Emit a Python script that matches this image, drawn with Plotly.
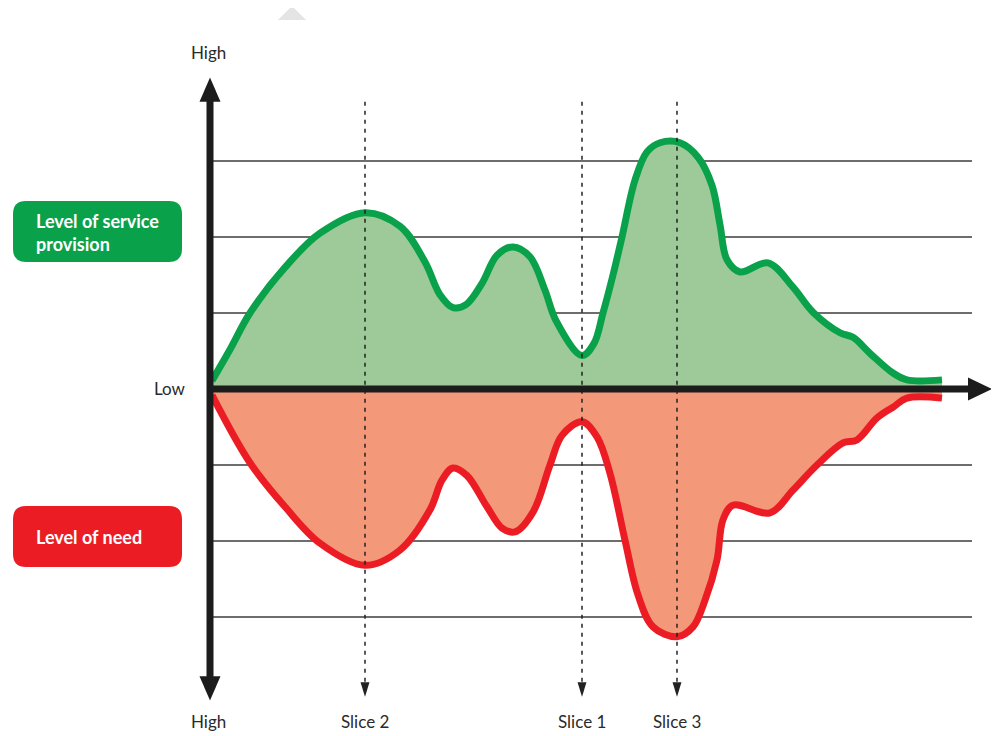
import plotly.graph_objects as go

# ---- data (x: time-like position units, y: level; + = service provision, - = need) ----
service_x = [0.2, 2.0, 4.0, 7.5, 11.0, 15.5, 19.0, 21.5, 23.0, 24.3, 25.6, 27.2,
             28.7, 30.3, 32.0, 33.5, 34.6, 37.2, 38.4, 39.3, 40.3, 41.2, 42.5, 43.7, 45.0,
             47.0, 48.8, 50.2, 51.0, 51.7, 53.0, 55.8, 58.3, 60.3, 63.0, 64.3, 66.0, 68.3,
             69.7, 73.2]
service_y = [0.11, 0.52, 1.00, 1.60, 2.05, 2.32, 2.14, 1.67, 1.24, 1.07, 1.11, 1.39,
             1.76, 1.87, 1.74, 1.30, 0.90, 0.44, 0.60, 1.00, 1.50, 2.00, 2.75, 3.12, 3.24,
             3.24, 3.05, 2.68, 2.16, 1.70, 1.54, 1.66, 1.34, 1.01, 0.74, 0.68, 0.47, 0.21,
             0.12, 0.12]

need_x = [0.2, 4.0, 7.5, 11.0, 15.5, 19.0, 22.0, 23.2, 24.3, 25.7, 27.7, 29.2,
          30.5, 32.3, 34.0, 35.2, 37.2, 38.7, 40.0, 41.5, 42.8, 44.3, 46.7, 48.3, 49.5,
          50.7, 51.3, 52.3, 56.0, 58.3, 60.7, 63.3, 64.7, 66.7, 68.3, 69.7, 73.2]
need_y = [-0.08, -0.97, -1.55, -2.03, -2.32, -2.12, -1.59, -1.20, -1.04, -1.14,
          -1.55, -1.83, -1.88, -1.62, -1.00, -0.61, -0.43, -0.63, -1.11, -1.99, -2.71, -3.13,
          -3.26, -3.13, -2.78, -2.25, -1.72, -1.53, -1.63, -1.33, -1.00, -0.71, -0.67, -0.38,
          -0.24, -0.12, -0.12]

grid_levels = [3, 2, 1, -1, -2, -3]
slice_names = ["Slice 2", "Slice 1", "Slice 3"]
slice_x = [15.5, 37.2, 46.7]
series_names = ["Level of service provision", "Level of need"]

# page is 999x736 with an 8px body margin -> figure drawn at (8,8)
OFF = 8
W, H = 999 - OFF, 736 - OFF
X0, X1 = (OFF - 210) / 10, (999 - 210) / 10
Y0, Y1 = (389 - 736) / 76, (389 - OFF) / 76

GREEN = "#0aa14b"
GREEN_FILL = "#9dca98"
RED = "#ec1c24"
RED_FILL = "#f39879"
FONT = "Lato"

fig = go.Figure()
fig.add_trace(go.Scatter(x=service_x, y=service_y, mode="lines",
                         line=dict(color=GREEN, width=7, shape="spline", smoothing=1.0),
                         fill="tozeroy", fillcolor=GREEN_FILL, name=series_names[0],
                         hoverinfo="skip"))
fig.add_trace(go.Scatter(x=need_x, y=need_y, mode="lines",
                         line=dict(color=RED, width=7, shape="spline", smoothing=1.0),
                         fill="tozeroy", fillcolor=RED_FILL, name=series_names[1],
                         hoverinfo="skip"))

shapes = []
for g in grid_levels:
    shapes.append(dict(type="line", x0=0, x1=76.2, y0=g, y1=g, layer="below",
                       line=dict(color="#3c3c3c", width=1.5)))

for sx in slice_x:
    shapes.append(dict(type="line", x0=sx, x1=sx, y0=3.78, y1=-3.88, layer="above",
                       line=dict(color="#222222", width=1.5, dash="4px,5px")))
    shapes.append(dict(type="path", layer="above",
                       path=f"M {sx-0.45},-3.86 L {sx+0.45},-3.86 L {sx},-4.05 Z",
                       fillcolor="#222222", line=dict(width=0)))

AX = "#1c1c1c"
shapes.append(dict(type="line", x0=0, x1=0, y0=3.85, y1=-3.85, layer="above",
                   line=dict(color=AX, width=7)))
shapes.append(dict(type="line", x0=0, x1=76.2, y0=0, y1=0, layer="above",
                   line=dict(color=AX, width=7)))
shapes.append(dict(type="path", layer="above", path="M -1.05,3.78 L 1.05,3.78 L 0,4.10 Z",
                   fillcolor=AX, line=dict(width=0)))
shapes.append(dict(type="path", layer="above", path="M -1.05,-3.78 L 1.05,-3.78 L 0,-4.10 Z",
                   fillcolor=AX, line=dict(width=0)))
shapes.append(dict(type="path", layer="above", path="M 75.8,0.15 L 75.8,-0.15 L 78.2,0 Z",
                   fillcolor=AX, line=dict(width=0)))


def px2paper(px, py):
    return (px - OFF) / W, 1 - (py - OFF) / H


def rounded_rect(x0, y0, x1, y1, r):
    def P(x, y):
        a, b = px2paper(x, y)
        return f"{a:.5f},{b:.5f}"
    return (f"M {P(x0 + r, y0)} L {P(x1 - r, y0)} Q {P(x1, y0)} {P(x1, y0 + r)} "
            f"L {P(x1, y1 - r)} Q {P(x1, y1)} {P(x1 - r, y1)} "
            f"L {P(x0 + r, y1)} Q {P(x0, y1)} {P(x0, y1 - r)} "
            f"L {P(x0, y0 + r)} Q {P(x0, y0)} {P(x0 + r, y0)} Z")


shapes.append(dict(type="path", xref="paper", yref="paper", layer="above",
                   path=rounded_rect(13, 201, 182, 262, 13), fillcolor=GREEN, line=dict(width=0)))
shapes.append(dict(type="path", xref="paper", yref="paper", layer="above",
                   path=rounded_rect(13, 506, 182, 567, 13), fillcolor=RED, line=dict(width=0)))

a1 = px2paper(292, 6); a2 = px2paper(278, 20); a3 = px2paper(306, 20)
shapes.append(dict(type="path", xref="paper", yref="paper", layer="above",
                   path=f"M {a1[0]},{a1[1]} L {a2[0]},{a2[1]} L {a3[0]},{a3[1]} Z",
                   fillcolor="#e4e4e4", line=dict(width=0)))

annotations = []
TXT = "#2a2a2a"


def label(text, px, py, size=17, color=TXT, bold=False, xanchor="center"):
    a, b = px2paper(px, py)
    annotations.append(dict(text=f"<b>{text}</b>" if bold else text, x=a, y=b,
                            xref="paper", yref="paper", showarrow=False,
                            xanchor=xanchor, yanchor="middle",
                            font=dict(family=FONT, size=size, color=color), align="left"))


label("High", 208, 52)
label("High", 208, 721)
label("Low", 170, 388)
for name, sx in zip(slice_names, slice_x):
    label(name, 210 + sx * 10, 721)

label("Level of service<br>provision", 34, 232, size=18, color="white", bold=True, xanchor="left")
label("Level of need", 34, 537, size=18, color="white", bold=True, xanchor="left")

fig.update_layout(
    width=W, height=H, autosize=False,
    margin=dict(l=0, r=0, t=0, b=0),
    paper_bgcolor="white", plot_bgcolor="white",
    showlegend=False,
    xaxis=dict(range=[X0, X1], visible=False, fixedrange=True),
    yaxis=dict(range=[Y0, Y1], visible=False, fixedrange=True),
    shapes=shapes, annotations=annotations,
)

fig.write_html("out.html")
